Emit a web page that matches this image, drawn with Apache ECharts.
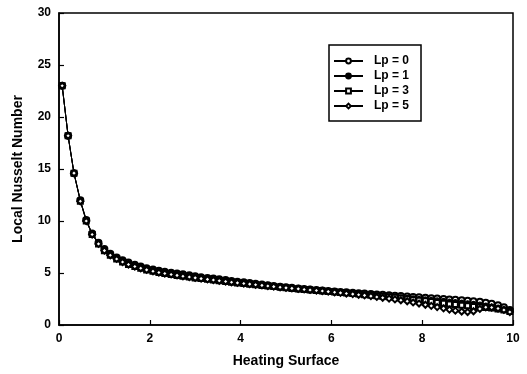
<!DOCTYPE html>
<html>
<head>
<meta charset="utf-8">
<script src="https://cdn.jsdelivr.net/npm/echarts@6/dist/echarts.min.js"></script>
<style>
  html, body { margin: 0; padding: 0; background: #fff; }
  #chart { width: 527px; height: 374px; }
</style>
</head>
<body>
<div id="chart"></div>
<script>
// heating surface positions (same for all runs)
const xs = [
  0.07, 0.2, 0.33, 0.47, 0.6, 0.73, 0.87, 1.0, 1.13, 1.27,
  1.4, 1.53, 1.67, 1.8, 1.93, 2.07, 2.2, 2.33, 2.47, 2.6,
  2.73, 2.87, 3.0, 3.13, 3.27, 3.4, 3.53, 3.67, 3.8, 3.93,
  4.07, 4.2, 4.33, 4.47, 4.6, 4.73, 4.87, 5.0, 5.13, 5.27,
  5.4, 5.53, 5.67, 5.8, 5.93, 6.07, 6.2, 6.33, 6.47, 6.6,
  6.73, 6.87, 7.0, 7.13, 7.27, 7.4, 7.53, 7.67, 7.8, 7.93,
  8.07, 8.2, 8.33, 8.47, 8.6, 8.73, 8.87, 9.0, 9.13, 9.27,
  9.4, 9.53, 9.67, 9.8, 9.93
];

const lp0 = [
  23.0, 18.2, 14.6, 12.0, 10.1, 8.8, 7.9, 7.3, 6.85, 6.5,
  6.22, 6.0, 5.8, 5.63, 5.45, 5.33, 5.22, 5.12, 5.03, 4.95,
  4.87, 4.79, 4.68, 4.6, 4.53, 4.46, 4.39, 4.32, 4.24, 4.17,
  4.1, 4.03, 3.96, 3.89, 3.82, 3.75, 3.68, 3.62, 3.57, 3.52,
  3.47, 3.42, 3.37, 3.32, 3.27, 3.22, 3.18, 3.14, 3.1, 3.06,
  3.02, 2.98, 2.94, 2.9, 2.86, 2.82, 2.78, 2.74, 2.7, 2.66,
  2.62, 2.58, 2.54, 2.5, 2.46, 2.42, 2.38, 2.34, 2.29, 2.23,
  2.15, 2.05, 1.9, 1.7, 1.45
];

const lp1 = [
  23.0, 18.2, 14.6, 12.0, 10.1, 8.8, 7.9, 7.3, 6.85, 6.5,
  6.22, 6.0, 5.8, 5.63, 5.45, 5.33, 5.22, 5.12, 5.03, 4.95,
  4.87, 4.79, 4.68, 4.6, 4.53, 4.46, 4.39, 4.32, 4.24, 4.17,
  4.1, 4.03, 3.96, 3.89, 3.82, 3.75, 3.68, 3.62, 3.57, 3.52,
  3.47, 3.42, 3.37, 3.32, 3.27, 3.2, 3.16, 3.12, 3.07, 3.03,
  2.98, 2.94, 2.89, 2.85, 2.8, 2.75, 2.71, 2.66, 2.61, 2.56,
  2.51, 2.46, 2.41, 2.36, 2.31, 2.26, 2.2, 2.14, 2.08, 2.0,
  1.92, 1.82, 1.7, 1.55, 1.35
];

const lp3 = [
  23.0, 18.2, 14.6, 11.9, 10.0, 8.7, 7.8, 7.15, 6.7, 6.35,
  6.05, 5.82, 5.62, 5.45, 5.3, 5.17, 5.05, 4.95, 4.86, 4.77,
  4.69, 4.61, 4.53, 4.46, 4.39, 4.32, 4.25, 4.18, 4.11, 4.05,
  3.99, 3.93, 3.87, 3.81, 3.75, 3.69, 3.63, 3.57, 3.52, 3.47,
  3.42, 3.37, 3.32, 3.27, 3.22, 3.17, 3.12, 3.07, 3.02, 2.97,
  2.92, 2.87, 2.82, 2.77, 2.71, 2.66, 2.6, 2.53, 2.46, 2.39,
  2.32, 2.25, 2.17, 2.1, 2.03, 1.96, 1.9, 1.84, 1.79, 1.74,
  1.69, 1.63, 1.55, 1.45, 1.3
];

const lp5 = [
  23.0, 18.2, 14.6, 11.9, 10.0, 8.7, 7.8, 7.15, 6.7, 6.35,
  6.05, 5.82, 5.62, 5.45, 5.3, 5.17, 5.05, 4.95, 4.86, 4.77,
  4.69, 4.61, 4.53, 4.46, 4.39, 4.32, 4.25, 4.18, 4.11, 4.05,
  3.99, 3.93, 3.87, 3.81, 3.75, 3.69, 3.63, 3.57, 3.52, 3.47,
  3.42, 3.37, 3.32, 3.27, 3.21, 3.15, 3.09, 3.03, 2.97, 2.91,
  2.85, 2.78, 2.7, 2.62, 2.54, 2.46, 2.38, 2.28, 2.17, 2.06,
  1.95, 1.84, 1.72, 1.6, 1.48, 1.38, 1.3, 1.25, 1.32, 1.55,
  1.7, 1.68, 1.58, 1.45, 1.25
];

const seriesNames = ['Lp = 0', 'Lp = 1', 'Lp = 3', 'Lp = 5'];
const seriesValues = [lp0, lp1, lp3, lp5];
const seriesSymbols = ['emptyCircle', 'circle', 'emptyRect', 'emptyDiamond'];
const seriesSymbolSizes = [6, 4, 5, 6];

const font = "'Liberation Sans', Arial, sans-serif";

const chart = echarts.init(document.getElementById('chart'));

const axisCommon = {
  axisLine: { show: true, lineStyle: { color: '#000', width: 1.5 } },
  axisTick: { show: true, inside: true, length: 5, lineStyle: { color: '#000', width: 1.2 } },
  axisLabel: { color: '#000', fontSize: 12, fontWeight: 'bold', fontFamily: font },
  splitLine: { show: false },
  nameTextStyle: { color: '#000', fontSize: 14, fontWeight: 'bold', fontFamily: font }
};

const option = {
  animation: false,
  backgroundColor: '#fff',
  grid: {
    left: 59,
    right: 14,
    top: 13,
    bottom: 49,
    show: true,
    borderColor: '#000',
    borderWidth: 1.5
  },
  legend: {
    orient: 'vertical',
    left: 329,
    top: 45,
    data: seriesNames,
    borderColor: '#000',
    borderWidth: 1.5,
    padding: [10, 12, 9, 4],
    itemWidth: 29,
    itemHeight: 6,
    itemGap: 3,
    textStyle: {
      color: '#000',
      fontSize: 12,
      fontWeight: 'bold',
      fontFamily: font,
      lineHeight: 12,
      padding: [0, 0, 0, 6]
    }
  },
  xAxis: {
    type: 'value',
    min: 0,
    max: 10,
    interval: 2,
    name: 'Heating Surface',
    nameLocation: 'middle',
    nameGap: 29,
    ...axisCommon
  },
  yAxis: {
    type: 'value',
    min: 0,
    max: 30,
    interval: 5,
    name: 'Local Nusselt Number',
    nameLocation: 'middle',
    nameGap: 34,
    ...axisCommon
  },
  series: seriesNames.map((name, k) => ({
    name: name,
    type: 'line',
    data: xs.map((x, i) => [x, seriesValues[k][i]]),
    symbol: seriesSymbols[k],
    symbolSize: seriesSymbolSizes[k],
    showAllSymbol: true,
    lineStyle: { color: '#000', width: 1 },
    itemStyle: { color: '#000', borderColor: '#000', borderWidth: 1.2 }
  }))
};

chart.setOption(option);
</script>
</body>
</html>
